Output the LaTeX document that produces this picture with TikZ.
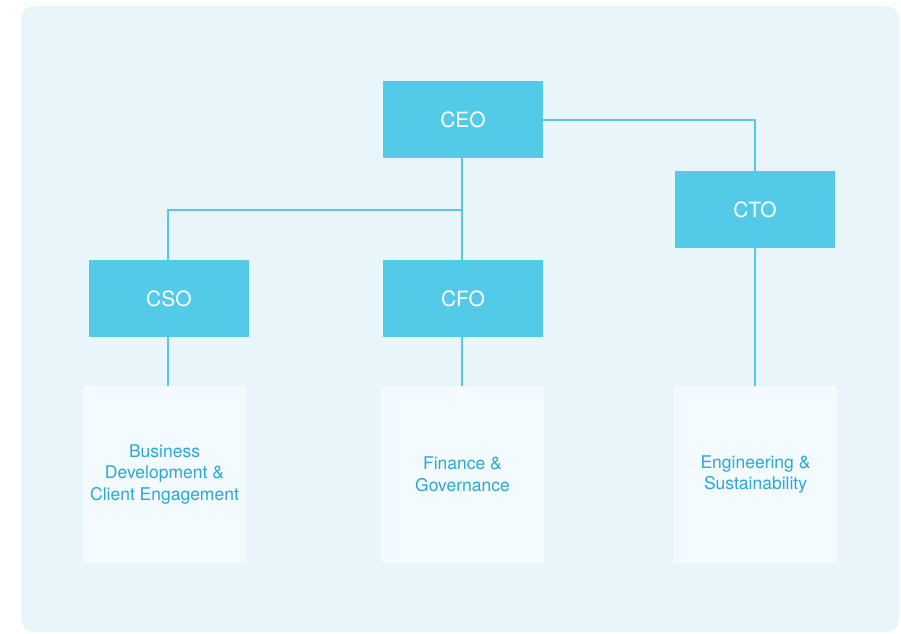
\documentclass[tikz,border=0pt]{standalone}
\usepackage{fontspec}
\setmainfont{TeX Gyre Heros}
\definecolor{bgc}{HTML}{E8F6FB}
\definecolor{boxc}{HTML}{52CAE8}
\definecolor{lightc}{HTML}{F3FBFE}
\definecolor{txtc}{HTML}{2BA8D5}
\begin{document}
\begin{tikzpicture}[x=1pt,y=-1pt,
  role/.style={fill=boxc,draw=none,minimum width=160pt,minimum height=77pt,inner sep=0pt,text=white,font=\fontsize{21}{24}\selectfont},
  unit/.style={fill=lightc,draw=none,minimum width=163pt,minimum height=177pt,inner sep=0pt,text=txtc,align=center,font=\fontsize{17.5}{21.5}\selectfont},
  link/.style={draw=boxc,line width=2pt}]
\useasboundingbox (0,0) rectangle (901,633);
\fill[bgc,rounded corners=13pt] (21,6) rectangle (899,632);
\node[role] (ceo) at (463,119.5) {CEO};
\node[role] (cto) at (755,209.5) {CTO};
\node[role] (cso) at (169,298.5) {CSO};
\node[role] (cfo) at (463,298.5) {CFO};
\node[unit] (bd) at (164.5,474.5) {Business\\Development \&\\Client Engagement};
\node[unit] (fin) at (462.5,474.5) {Finance \&\\Governance};
\node[unit] (eng) at (755.5,474.5) {Engineering \&\\Sustainability};
\coordinate (j) at (461.5,209.7);
\draw[link] ([xshift=-1.5pt]ceo.south) -- ([xshift=-1.5pt]cfo.north);
\draw[link] (j) -| ([xshift=-1pt]cso.north);
\draw[link] (ceo.east) -| (cto.north);
\draw[link] ([xshift=-1pt]cso.south) -- ([xshift=-1pt]cso.south |- bd.north);
\draw[link] ([xshift=-1.5pt]cfo.south) -- ([xshift=-1.5pt]cfo.south |- fin.north);
\draw[link] (cto.south) -- (cto.south |- eng.north);
\end{tikzpicture}
\end{document}
